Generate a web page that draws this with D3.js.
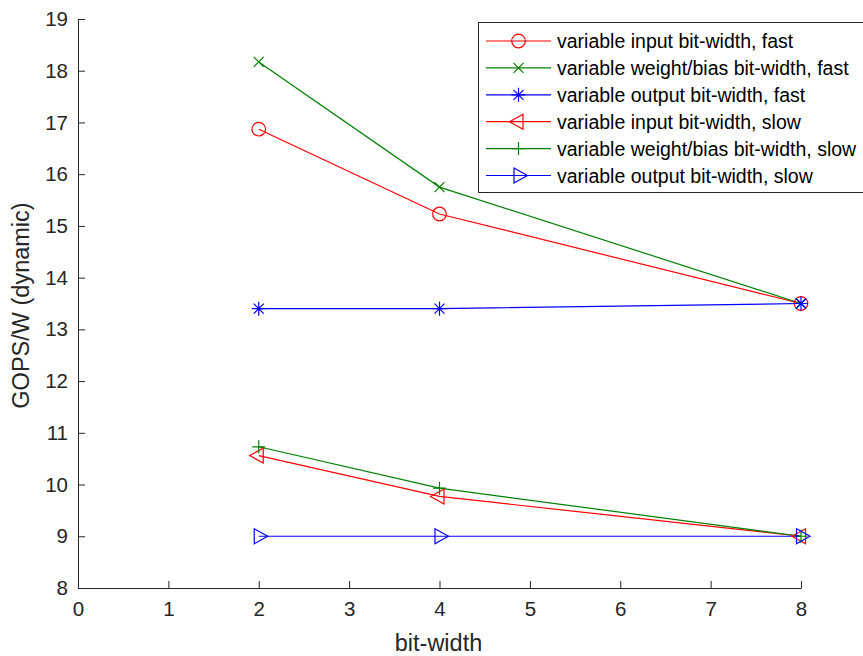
<!DOCTYPE html>
<html>
<head>
<meta charset="utf-8">
<script src="https://cdn.jsdelivr.net/npm/d3@7"></script>
<style>
  body { margin: 0; background: #fff; }
  svg { display: block; font-family: "Liberation Sans", Arial, sans-serif; }
</style>
</head>
<body>
<svg id="chart" width="863" height="656"></svg>
<script>
// Energy efficiency per bit-width configuration
const bitWidths = [2, 4, 8];
const inputFast  = [16.87, 15.23, 13.5];
const weightFast = [18.17, 15.75, 13.5];
const outputFast = [13.4, 13.4, 13.5];
const inputSlow  = [10.56, 9.77, 9.0];
const weightSlow = [10.73, 9.93, 9.0];
const outputSlow = [9.0, 9.0, 9.0];

const xTicks = [0, 1, 2, 3, 4, 5, 6, 7, 8];
const yTicks = [8, 9, 10, 11, 12, 13, 14, 15, 16, 17, 18, 19];

const seriesNames = [
  "variable input bit-width, fast",
  "variable weight/bias bit-width, fast",
  "variable output bit-width, fast",
  "variable input bit-width, slow",
  "variable weight/bias bit-width, slow",
  "variable output bit-width, slow"
];

const RED = "#ff0000", GREEN = "#008000", BLUE = "#0000ff";
const series = [
  { name: seriesNames[0], values: inputFast,  color: RED,   marker: "circle" },
  { name: seriesNames[1], values: weightFast, color: GREEN, marker: "cross" },
  { name: seriesNames[2], values: outputFast, color: BLUE,  marker: "star" },
  { name: seriesNames[3], values: inputSlow,  color: RED,   marker: "triLeft" },
  { name: seriesNames[4], values: weightSlow, color: GREEN, marker: "plus" },
  { name: seriesNames[5], values: outputSlow, color: BLUE,  marker: "triRight" }
];

const svg = d3.select("#chart");
const plotLeft = 78, plotRight = 801, plotTop = 19, plotBottom = 588;
const axisColor = "#262626";

const x = d3.scaleLinear().domain([0, 8]).range([plotLeft, plotRight]);
const y = d3.scaleLinear().domain([8, 19]).range([plotBottom, plotTop]);

// Axes (ticks pointing inward)
const xAxis = svg.append("g").attr("transform", `translate(0,${plotBottom})`)
  .call(d3.axisBottom(x).tickValues(xTicks).tickSizeInner(-7).tickSizeOuter(0).tickPadding(13));
const yAxis = svg.append("g").attr("transform", `translate(${plotLeft},0)`)
  .call(d3.axisLeft(y).tickValues(yTicks).tickSizeInner(-7).tickSizeOuter(0).tickPadding(10));
[xAxis, yAxis].forEach(g => {
  g.select(".domain").attr("stroke", axisColor).attr("stroke-width", 1);
  g.selectAll(".tick line").attr("stroke", axisColor);
  g.selectAll(".tick text").attr("fill", axisColor).attr("font-size", 20.5)
    .attr("font-family", "Liberation Sans, Arial, sans-serif");
});

svg.append("text").attr("x", (plotLeft + plotRight) / 2 - 1).attr("y", 651)
  .attr("text-anchor", "middle").attr("font-size", 23.5).attr("fill", axisColor)
  .text("bit-width");
svg.append("text").attr("transform", `translate(29,${(plotTop + plotBottom) / 2 + 2}) rotate(-90)`)
  .attr("text-anchor", "middle").attr("font-size", 23.5).attr("fill", axisColor)
  .text("GOPS/W (dynamic)");

// Marker drawing
function drawMarker(g, kind, cx, cy, color) {
  const m = g.append("g").attr("transform", `translate(${cx},${cy})`)
    .attr("stroke", color).attr("fill", "none").attr("stroke-width", 1.2);
  if (kind === "circle") {
    m.append("circle").attr("r", 6.8);
  } else if (kind === "cross") {
    m.append("path").attr("d", "M-5,-5L5,5M-5,5L5,-5");
  } else if (kind === "plus") {
    m.append("path").attr("d", "M-6.5,0L6.5,0M0,-6.5L0,6.5");
  } else if (kind === "star") {
    m.append("path").attr("d", "M-7,0L7,0M0,-7L0,7M-5,-5L5,5M-5,5L5,-5");
  } else if (kind === "triLeft") {
    m.append("path").attr("d", "M-9,0L4.5,-7.5L4.5,7.5Z");
  } else if (kind === "triRight") {
    m.append("path").attr("d", "M9,0L-4.5,-7.5L-4.5,7.5Z");
  }
}

const line = d3.line().x(d => x(d[0])).y(d => y(d[1]));
const plot = svg.append("g");
series.forEach(s => {
  const pts = bitWidths.map((b, i) => [b, s.values[i]]);
  plot.append("path").datum(pts).attr("d", line)
    .attr("fill", "none").attr("stroke", s.color).attr("stroke-width", 1.2);
});
series.forEach(s => {
  bitWidths.forEach((b, i) => drawMarker(plot, s.marker, x(b), y(s.values[i]), s.color));
});

// Legend
const lg = svg.append("g");
lg.append("rect").attr("x", 478.5).attr("y", 22.5).attr("width", 400).attr("height", 170)
  .attr("fill", "#fff").attr("stroke", axisColor).attr("stroke-width", 1);
series.forEach((s, i) => {
  const ly = 41 + i * 26.9;
  lg.append("line").attr("x1", 486).attr("x2", 551).attr("y1", ly).attr("y2", ly)
    .attr("stroke", s.color).attr("stroke-width", 1.2);
  drawMarker(lg, s.marker, 518.5, ly, s.color);
  lg.append("text").attr("x", 557).attr("y", ly + 7).attr("font-size", 19.5)
    .attr("fill", "#000").text(s.name);
});
</script>
</body>
</html>
